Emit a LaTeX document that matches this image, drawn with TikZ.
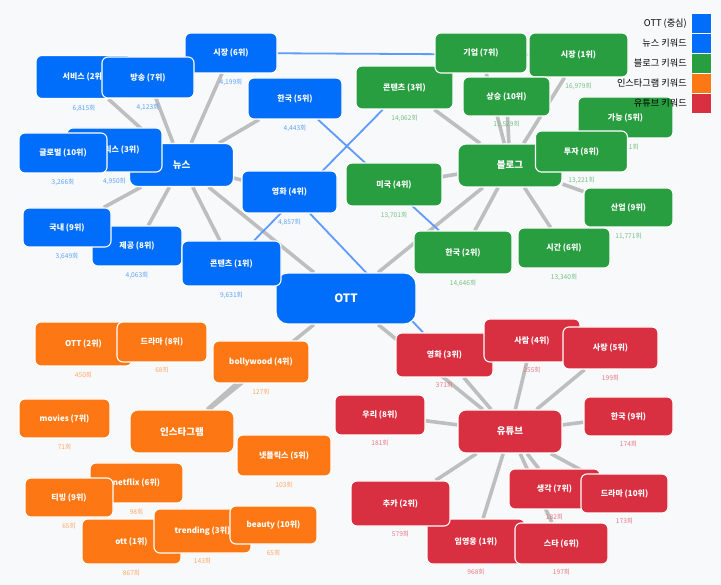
\documentclass[tikz,border=0pt]{standalone}
\usepackage{fontspec}
\setmainfont{Noto Sans CJK KR}
\usepackage{tikz}
\usetikzlibrary{positioning,backgrounds}
\usepackage{xcolor}
\definecolor{OttBlue}{RGB}{0,110,250}
\definecolor{NewsBlue}{RGB}{0,110,250}
\definecolor{BlogGreen}{RGB}{40,158,64}
\definecolor{InstaOrange}{RGB}{253,120,20}
\definecolor{TubeRed}{RGB}{216,48,64}
\definecolor{EdgeGrey}{RGB}{190,190,190}
\definecolor{LinkBlue}{RGB}{95,155,255}
\definecolor{BgGrey}{RGB}{248,249,250}

\begin{document}
\begin{tikzpicture}[x=1pt, y=-1pt,
    kw/.style={rectangle, rounded corners=6pt, draw=white, line width=1.1pt,
        text=white, inner sep=0pt, font=\fontsize{8}{9}\selectfont\bfseries},
    kwsize/.style 2 args={minimum width=#1pt, minimum height=#2pt},
    hub/.style={kw, rounded corners=8pt, minimum width=104pt, minimum height=43pt,
        font=\fontsize{9.5}{11}\selectfont\bfseries},
    cnt/.style={inner sep=0pt, font=\fontsize{6.6}{7.5}\selectfont},
    news/.style={kw, fill=NewsBlue},
    blogkw/.style={kw, fill=BlogGreen},
    instakw/.style={kw, fill=InstaOrange},
    tubekw/.style={kw, fill=TubeRed},
    ncnt/.style={cnt, text=NewsBlue!65},
    bcnt/.style={cnt, text=BlogGreen!65},
    icnt/.style={cnt, text=InstaOrange!65},
    tcnt/.style={cnt, text=TubeRed!65},
    edge/.style={line width=3.6pt, EdgeGrey},
    link/.style={line width=1.8pt, LinkBlue},
    legtxt/.style={inner sep=0pt, font=\fontsize{9.2}{10}\selectfont},
    legsq/.style={rectangle, draw=white, line width=1pt, minimum size=20pt, inner sep=0pt},
]
\useasboundingbox (0,0) rectangle (721,585);

% hubs
\node[hub, fill=OttBlue, rounded corners=12pt, minimum width=140pt, minimum height=51pt,
    font=\fontsize{11.5}{13}\selectfont\bfseries] (ott) at (346,298.5) {OTT};
\node[hub, fill=NewsBlue] (news) at (181.5,165) {뉴스};
\node[hub, fill=BlogGreen] (blog) at (510,165.5) {블로그};
\node[hub, fill=InstaOrange] (insta) at (182,431.5) {인스타그램};
\node[hub, fill=TubeRed] (tube) at (510,431.5) {유튜브};

% news keywords
\node[news, kwsize={92}{40}] (n6) at (231,53) {시장 (6위)};
\node[ncnt, below=5.5pt of n6] (n6c) {4,199회};
\node[news, kwsize={96}{43}] (n2) at (84,77) {서비스 (2위)};
\node[ncnt, below=5.5pt of n2] (n2c) {6,815회};
\node[news, kwsize={92}{41}] (n7) at (148,77.5) {방송 (7위)};
\node[ncnt, below=5.5pt of n7] (n7c) {4,123회};
\node[news, kwsize={94}{41}] (n5) at (295,98.5) {한국 (5위)};
\node[ncnt, below=5.5pt of n5] (n5c) {4,443회};
\node[news, kwsize={95}{44}] (n3) at (114.5,150) {넷플릭스 (3위)};
\node[ncnt, below=5.5pt of n3] (n3c) {4,950회};
\node[news, kwsize={88}{40}] (n10) at (63,153) {글로벌 (10위)};
\node[ncnt, below=5.5pt of n10] (n10c) {3,266회};
\node[news, kwsize={95}{42}] (n4) at (289.5,192) {영화 (4위)};
\node[ncnt, below=5.5pt of n4] (n4c) {4,857회};
\node[news, kwsize={90}{40}] (n8) at (137,246) {제공 (8위)};
\node[ncnt, below=5.5pt of n8] (n8c) {4,063회};
\node[news, kwsize={88}{39}] (n9) at (67,227.5) {국내 (9위)};
\node[ncnt, below=5.5pt of n9] (n9c) {3,649회};
\node[news, kwsize={99}{45}] (n1) at (231.5,263.5) {콘텐츠 (1위)};
\node[ncnt, below=5.5pt of n1] (n1c) {9,631회};

% blog keywords
\node[blogkw, kwsize={97}{43}] (b3) at (404.5,87.5) {콘텐츠 (3위)};
\node[bcnt, below=5.5pt of b3] (b3c) {14,062회};
\node[blogkw, kwsize={92}{40}] (b7) at (481,53) {기업 (7위)};
\node[blogkw, kwsize={99}{44}] (b1) at (578.5,55) {시장 (1위)};
\node[bcnt, below=5.5pt of b1] (b1c) {16,979회};
\node[blogkw, kwsize={87}{39}] (b10) at (506.5,96.5) {상승 (10위)};
\node[bcnt, below=4.5pt of b10] (b10c) {11,529회};
\node[blogkw, kwsize={95}{41}] (b5) at (625.5,117.5) {가능 (5위)};
\node[bcnt, below=5.5pt of b5] (b5c) {11,921회};
\node[blogkw, kwsize={92}{41}] (b8) at (581.5,151.5) {투자 (8위)};
\node[bcnt, below=4.5pt of b8] (b8c) {13,221회};
\node[blogkw, kwsize={96}{43}] (b4) at (394,184.5) {미국 (4위)};
\node[bcnt, below=5.5pt of b4] (b4c) {13,701회};
\node[blogkw, kwsize={89}{39}] (b9) at (628.5,207.5) {산업 (9위)};
\node[bcnt, below=5.5pt of b9] (b9c) {11,771회};
\node[blogkw, kwsize={98}{43}] (b2) at (463,252.5) {한국 (2위)};
\node[bcnt, below=5.5pt of b2] (b2c) {14,646회};
\node[blogkw, kwsize={92}{40}] (b6) at (564,248) {시간 (6위)};
\node[bcnt, below=5.5pt of b6] (b6c) {13,340회};

% instagram keywords
\node[instakw, kwsize={97}{44}] (i2) at (83.5,344) {OTT (2위)};
\node[icnt, below=5.5pt of i2] (i2c) {450회};
\node[instakw, kwsize={90}{40}] (i8) at (162,342) {드라마 (8위)};
\node[icnt, below=4.5pt of i8] (i8c) {68회};
\node[instakw, kwsize={96}{42}] (i4) at (261,362) {bollywood (4위)};
\node[icnt, below=5.5pt of i4] (i4c) {127회};
\node[instakw, kwsize={91}{39}] (i7) at (64.5,418.5) {movies (7위)};
\node[icnt, below=5.5pt of i7] (i7c) {71회};
\node[instakw, kwsize={94}{41}] (i5) at (284,455.5) {넷플릭스 (5위)};
\node[icnt, below=5.5pt of i5] (i5c) {103회};
\node[instakw, kwsize={93}{40}] (i6) at (136.5,483) {netflix (6위)};
\node[icnt, below=5.5pt of i6] (i6c) {98회};
\node[instakw, kwsize={88}{39}] (i9) at (69,497.5) {티빙 (9위)};
\node[icnt, below=5.5pt of i9] (i9c) {65회};
\node[instakw, kwsize={99}{45}] (i1) at (131.5,541.5) {ott (1위)};
\node[icnt, below=5.5pt of i1] (i1c) {867회};
\node[instakw, kwsize={97}{44}] (i3) at (202.5,531) {trending (3위)};
\node[icnt, below=4.5pt of i3] (i3c) {143회};
\node[instakw, kwsize={87}{38}] (i10) at (273.5,525) {beauty (10위)};
\node[icnt, below=5.5pt of i10] (i10c) {65회};

% youtube keywords
\node[tubekw, kwsize={97}{44}] (y3) at (444.5,355) {영화 (3위)};
\node[tcnt, below=4.5pt of y3] (y3c) {371회};
\node[tubekw, kwsize={96}{43}] (y4) at (532,340.5) {사람 (4위)};
\node[tcnt, below=4.5pt of y4] (y4c) {255회};
\node[tubekw, kwsize={95}{42}] (y5) at (610.5,348) {사랑 (5위)};
\node[tcnt, below=5.5pt of y5] (y5c) {199회};
\node[tubekw, kwsize={90}{40}] (y8) at (380,415) {우리 (8위)};
\node[tcnt, below=4.5pt of y8] (y8c) {181회};
\node[tubekw, kwsize={89}{39}] (y9) at (628.5,416.5) {한국 (9위)};
\node[tcnt, below=4.5pt of y9] (y9c) {174회};
\node[tubekw, kwsize={91}{40}] (y7) at (554.5,489) {생각 (7위)};
\node[tcnt, below=4.5pt of y7] (y7c) {182회};
\node[tubekw, kwsize={87}{39}] (y10) at (624.5,493.5) {드라마 (10위)};
\node[tcnt, below=4.5pt of y10] (y10c) {173회};
\node[tubekw, kwsize={98}{45}] (y1) at (476,541.5) {임영웅 (1위)};
\node[tcnt, below=4.5pt of y1] (y1c) {968회};
\node[tubekw, kwsize={99}{45}] (y2) at (400.5,503.5) {추카 (2위)};
\node[tcnt, below=4.5pt of y2] (y2c) {579회};
\node[tubekw, kwsize={93}{41}] (y6) at (561.5,543.5) {스타 (6위)};
\node[tcnt, below=4.5pt of y6] (y6c) {197회};

% legend
\node[legtxt, anchor=east] (lt1) at (687,23.5) {OTT (중심)};
\node[legsq, fill=OttBlue] (ls1) at (701.5,23.5) {};
\node[legtxt, anchor=east] (lt2) at (687,43.5) {뉴스 키워드};
\node[legsq, fill=NewsBlue] (ls2) at (701.5,43.5) {};
\node[legtxt, anchor=east] (lt3) at (687,63.5) {블로그 키워드};
\node[legsq, fill=BlogGreen] (ls3) at (701.5,63.5) {};
\node[legtxt, anchor=east] (lt4) at (687,83.5) {인스타그램 키워드};
\node[legsq, fill=InstaOrange] (ls4) at (701.5,83.5) {};
\node[legtxt, anchor=east] (lt5) at (687,103.5) {유튜브 키워드};
\node[legsq, fill=TubeRed] (ls5) at (701.5,103.5) {};

% connectors behind the boxes
\begin{scope}[on background layer]
\fill[BgGrey] (0,0) rectangle (721,585);
\draw[edge] (ott) -- (news);
\draw[edge] (ott) -- (blog);
\draw[edge] (ott) -- (insta);
\draw[edge] (ott) -- (tube);
\draw[edge] (news) -- (n1);
\draw[edge] (news) -- (n2);
\draw[edge] (news) -- (n4);
\draw[edge] (news) -- (n5);
\draw[edge] (news) -- (n6);
\draw[edge] (news) -- (n7);
\draw[edge] (news) -- (n8);
\draw[edge] (news) -- (n9);
\draw[edge] (blog) -- (b1);
\draw[edge] (blog) -- (b2);
\draw[edge] (blog) -- (b3);
\draw[edge] (blog) -- (b4);
\draw[edge] (blog) -- (b6);
\draw[edge] (blog) -- (b7);
\draw[edge] (blog) -- (b9);
\draw[edge] (blog) -- (b10);
\draw[edge] (insta) -- (i4);
\draw[edge] (tube) -- (y1);
\draw[edge] (tube) -- (y2);
\draw[edge] (tube) -- (y3);
\draw[edge] (tube) -- (y4);
\draw[edge] (tube) -- (y5);
\draw[edge] (tube) -- (y6);
\draw[edge] (tube) -- (y7);
\draw[edge] (tube) -- (y8);
\draw[edge] (tube) -- (y9);
\draw[edge] (tube) -- (y10);
\draw[link] (n6) -- (b1);
\draw[link] (n5) -- (b2);
\draw[link] (n1) -- (b3);
\draw[link] (n4) -- (y3);
\end{scope}
\end{tikzpicture}
\end{document}
